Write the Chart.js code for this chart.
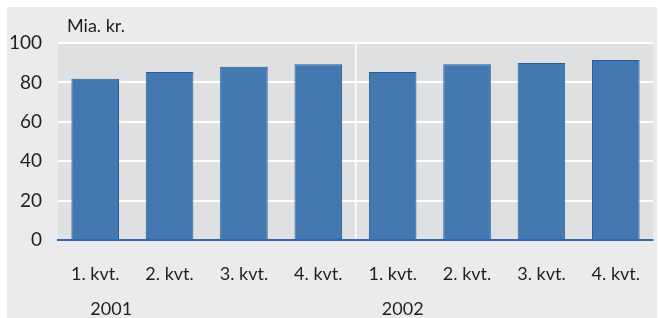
<!DOCTYPE html>
<html lang="no">
<head>
<meta charset="UTF-8">
<title>Mia. kr.</title>
<script src="https://cdn.jsdelivr.net/npm/chart.js@4.4.1/dist/chart.umd.min.js"></script>
<style>
    html, body { margin:0; padding:0; background:#ffffff; }
    #board {
        position:absolute;
        left:7px; top:7px;
        width:650px; height:311px;
        background:#ebebed;
    }
</style>
</head>
<body>
<div id="board">
    <canvas id="chart1" width="650" height="311"></canvas>
</div>

<script>
    const quarters = ['1. kvt.','2. kvt.','3. kvt.','4. kvt.','1. kvt.','2. kvt.','3. kvt.','4. kvt.'];
    const years = ['2001','2002'];
    const values = [81.8, 85.3, 87.9, 89.2, 85.3, 89.2, 89.9, 91.4];
    const yTicks = [0, 20, 40, 60, 80, 100];
    const unit = 'Mia. kr.';

    const FONT = 'Lato, "Open Sans", sans-serif';
    const TXT = '#231f20';

    // grå bakgrunn i plottet + enhet og årstall
    const extras = {
        id:'extras',
        beforeDraw(chart){
            const {ctx, chartArea:a} = chart;
            ctx.save();
            ctx.fillStyle = '#dfe0e2';
            ctx.fillRect(a.left, a.top, a.right-a.left, a.bottom-a.top);
            ctx.restore();
        },
        afterDraw(chart){
            const {ctx} = chart;
            const x = chart.scales.x;
            ctx.save();
            ctx.fillStyle = TXT;
            ctx.font = '18px ' + FONT;
            ctx.textBaseline = 'middle';
            ctx.textAlign = 'left';
            ctx.fillText(unit, 60, 19);
            ctx.textAlign = 'center';
            ctx.fillText(years[0], x.getPixelForValue(0) + 16, 302);
            ctx.fillText(years[1], x.getPixelForValue(4) + 10, 302);
            ctx.restore();
        }
    };

    new Chart(document.getElementById('chart1'), {
        type:'bar',
        data:{
            labels:quarters,
            datasets:[{
                data:values,
                backgroundColor:'#4378b0',
                borderColor:'#1f5e9c',
                borderWidth:1,
                categoryPercentage:0.64,
                barPercentage:1
            }]
        },
        options:{
            responsive:false,
            animation:false,
            layout:{ padding:{ left:0, right:4, top:36, bottom:0 } },
            plugins:{ legend:{display:false}, tooltip:{enabled:false} },
            scales:{
                x:{
                    grid:{
                        drawTicks:false,
                        lineWidth:1.5,
                        color:(c)=> c.index === 4 ? '#ffffff' : 'rgba(0,0,0,0)'
                    },
                    border:{ color:'#2f6aad', width:2 },
                    ticks:{ color:TXT, font:{family:FONT, size:18}, padding:23, maxRotation:0 },
                    afterFit(s){ s.height = 78; s.paddingLeft = 0; s.paddingRight = 0; }
                },
                y:{
                    min:0, max:100,
                    afterBuildTicks(s){ s.ticks = yTicks.map(v=>({value:v})); },
                    grid:{ drawTicks:false, color:'#ffffff', lineWidth:2 },
                    border:{ display:false },
                    ticks:{ color:TXT, font:{family:FONT, size:19}, padding:16 },
                    afterFit(s){ s.width = 51; s.paddingTop = 0; s.paddingBottom = 0; }
                }
            }
        },
        plugins:[extras]
    });
</script>
</body>
</html>
